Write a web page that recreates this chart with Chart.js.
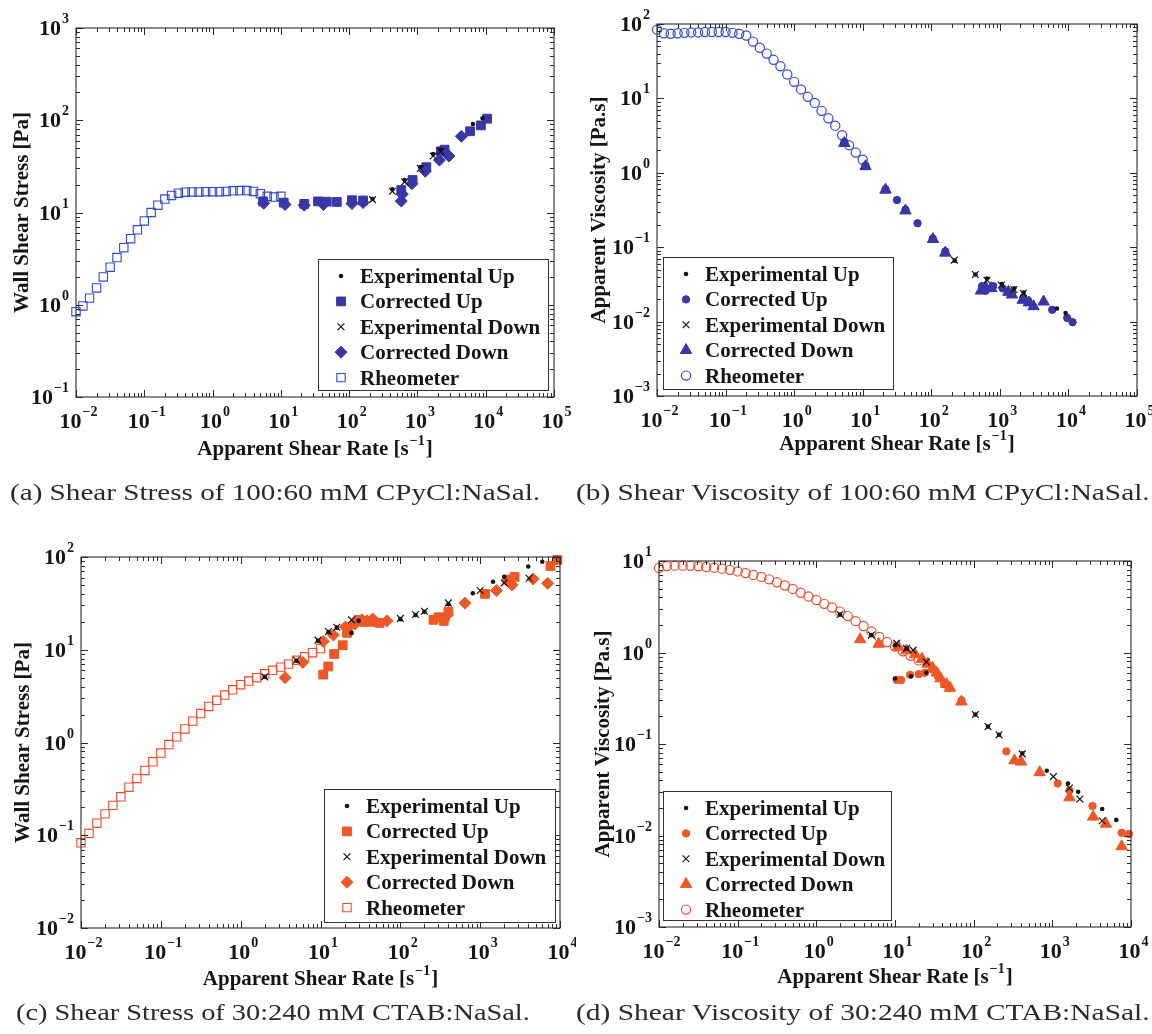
<!DOCTYPE html>
<html lang="en">
<head>
<meta charset="UTF-8">
<title>Wall shear stress and apparent viscosity</title>
<script src="https://cdn.jsdelivr.net/npm/chart.js"></script>
<style>
  body { margin: 0; background: #fff; width: 1152px; height: 1034px; position: relative; overflow: hidden; }
  canvas { position: absolute; }
  .caption { position: absolute; font-family: 'Liberation Serif', serif; font-size: 24px; line-height: 1; color: #2a2a2a; white-space: nowrap; transform-origin: left top; }
</style>
</head>
<body>
<canvas id="chartA"></canvas>
<canvas id="chartB"></canvas>
<canvas id="chartC"></canvas>
<canvas id="chartD"></canvas>
<div class="caption" id="capA">(a) Shear Stress of 100:60 mM CPyCl:NaSal.</div>
<div class="caption" id="capB">(b) Shear Viscosity of 100:60 mM CPyCl:NaSal.</div>
<div class="caption" id="capC">(c) Shear Stress of 30:240 mM CTAB:NaSal.</div>
<div class="caption" id="capD">(d) Shear Viscosity of 30:240 mM CTAB:NaSal.</div>

<script>
// ---- data: [shear rate 1/s, value] ----

// (a) wall shear stress [Pa], 100:60 mM CPyCl:NaSal
const aExpUp = [[220,14],[430,17.8],[650,22.5],[1100,31],[1700,43],[2200,48],[6500,91],[9000,105]];
const aCorrUp = [[5.5,13.2],[11,12.8],[22,12.4],[35,13.2],[47,13.1],[66,13],[110,13.6],[160,13.5],
  [580,17.5],[850,22.5],[1350,31],[2200,46],[2500,48],[5900,76],[8500,88],[10500,104]];
const aExpDown = [[220,13.8],[430,17],[650,21.5],[1100,30],[1700,41],[2200,46]];
const aCorrDown = [[5.6,12.6],[11.5,12.2],[22,12],[42,12.2],[110,12.5],[160,12.8],[580,13.3],
  [600,15.8],[830,20.5],[1300,28],[2100,37],[2900,41],[4400,67]];
const aRheometer = [[0.01,0.84],[0.0126,0.97],[0.0158,1.18],[0.02,1.52],[0.0251,2.0],[0.0316,2.55],
  [0.0398,3.25],[0.0501,4.15],[0.0631,5.2],[0.0794,6.5],[0.1,8.1],[0.126,10],[0.158,12],[0.2,14],
  [0.251,15.3],[0.316,16.2],[0.398,16.6],[0.501,16.7],[0.631,16.7],[0.794,16.8],[1,16.8],[1.26,16.8],
  [1.58,16.9],[2,17.2],[2.51,17.3],[3.16,17.3],[3.98,16.9],[5.01,16],[6.31,15],[7.94,14.7],[10,15]];

// (b) apparent viscosity [Pa.s], 100:60 mM CPyCl:NaSal
const bExpUp = [[220,0.066],[440,0.043],[650,0.038],[1070,0.032],[1620,0.028],[2220,0.0246],[6800,0.015],[9100,0.013]];
const bCorrUp = [[5.4,2.6],[11,1.25],[21.5,0.6],[31.6,0.43],[42,0.32],[63,0.21],[105,0.13],[160,0.088],
  [550,0.03],[620,0.026],[800,0.03],[1100,0.028],[1500,0.024],[2200,0.021],[2600,0.019],[5800,0.0144],
  [9600,0.0112],[11500,0.0098]];
const bExpDown = [[217,0.067],[440,0.043],[650,0.036],[1050,0.031],[1600,0.027],[2200,0.024]];
const bCorrDown = [[5.4,2.5],[11,1.22],[21.5,0.59],[42,0.31],[106,0.128],[160,0.084],[530,0.026],
  [620,0.029],[750,0.028],[1330,0.025],[1500,0.023],[2150,0.0195],[2650,0.018],[3100,0.016],[4350,0.0185]];
const bRheometer = [[0.01,84],[0.0126,75],[0.0158,74],[0.02,75],[0.0251,76],[0.0316,77],[0.0398,77],
  [0.0501,78],[0.0631,78],[0.0794,78],[0.1,78],[0.126,76],[0.158,74],[0.2,70],[0.251,58],[0.316,48],
  [0.398,40],[0.501,33],[0.631,27],[0.794,21],[1,16.7],[1.26,13.2],[1.58,10.5],[2,8.7],[2.51,6.8],
  [3.16,5.4],[3.98,4.3],[5.01,3.2],[6.31,2.35],[7.94,1.87],[10,1.5]];

// (c) wall shear stress [Pa], 30:240 mM CTAB:NaSal
const cExpUp = [[2,5.1],[5,7.6],[9.3,12.5],[12.6,15.5],[16,17.3],[24.5,15.2],[30,20.5],[100,21.3],
  [155,23.7],[200,25.7],[400,31],[810,40.7],[1450,54],[2000,61],[4000,79],[6000,89]];
const cCorrUp = [[10.8,5.4],[12.5,6.6],[14.8,9],[19,11.2],[21.5,15.2],[22,17],[30,21],[35,20],[45,20],
  [55,19.5],[260,21],[300,22.4],[350,20.5],[400,25.7],[1150,40],[2200,57],[2700,61],[7600,80],[9300,93]];
const cExpDown = [[2,5.1],[5,7.7],[9.3,12.7],[12.6,15.7],[16,17.5],[24.5,21],[100,21.8],[155,24],
  [200,26],[400,32],[1000,43.5],[2000,52.6],[4100,59]];
const cCorrDown = [[3.6,5],[6,7.3],[10.8,12.3],[14.5,14.4],[20.5,17.6],[27,19],[33,21],[38,20.5],
  [45,21.5],[68,20.5],[350,21],[390,24],[645,31.8],[1600,43.5],[2500,50],[4600,58],[7000,52]];
const cRheometer = [[0.01,0.083],[0.0126,0.105],[0.0158,0.135],[0.02,0.17],[0.0251,0.21],[0.0316,0.26],
  [0.0398,0.33],[0.0501,0.41],[0.0631,0.5],[0.0794,0.62],[0.1,0.77],[0.126,0.95],[0.158,1.15],[0.2,1.4],
  [0.251,1.7],[0.316,2.05],[0.398,2.45],[0.501,2.85],[0.631,3.25],[0.794,3.7],[1,4.2],[1.26,4.6],
  [1.58,5.0],[2,5.5],[2.51,6.0],[3.16,6.5],[3.98,7.0],[5.01,7.7],[6.31,8.4],[7.94,9.3],[10,10.3]];

// (d) apparent viscosity [Pa.s], 30:240 mM CTAB:NaSal
const dExpUp = [[2,2.6],[5,1.55],[10,1.2],[14,1.1],[10,0.52],[16,0.55],[25,0.6],[105,0.21],[152,0.155],
  [210,0.126],[415,0.079],[850,0.051],[1580,0.037],[2130,0.03],[4300,0.0195],[6500,0.0148]];
const dCorrUp = [[10.5,0.5],[12,0.5],[15.5,0.57],[20,0.58],[24,0.6],[30,0.65],[35,0.55],[42,0.45],
  [48,0.41],[70,0.3],[260,0.083],[1170,0.037],[1650,0.031],[3240,0.021],[7600,0.0107],[9400,0.0104]];
const dExpDown = [[2,2.6],[5,1.55],[10.5,1.26],[14,1.11],[17,1.06],[25,0.79],[105,0.21],[152,0.155],
  [210,0.126],[415,0.078],[1030,0.044],[1650,0.033],[2240,0.025],[4300,0.0145]];
const dCorrDown = [[3.6,1.39],[6.2,1.24],[11,1.15],[14,1.05],[18,0.95],[22,0.85],[26,0.75],[30,0.68],
  [34,0.6],[38,0.52],[45,0.45],[50,0.41],[70,0.29],[330,0.066],[400,0.064],[690,0.049],[1650,0.026],
  [3300,0.016],[4800,0.0134],[7600,0.0076]];
const dRheometer = [[0.01,8.4],[0.0126,8.8],[0.0158,8.9],[0.02,8.9],[0.0251,8.85],[0.0316,8.75],
  [0.0398,8.6],[0.0501,8.45],[0.0631,8.25],[0.0794,8.0],[0.1,7.7],[0.126,7.4],[0.158,7.05],[0.2,6.7],
  [0.251,6.3],[0.316,5.85],[0.398,5.4],[0.501,4.95],[0.631,4.5],[0.794,4.1],[1,3.75],[1.26,3.4],
  [1.58,3.1],[2,2.8],[2.51,2.5],[3.16,2.2],[3.98,1.95],[5.01,1.7],[6.31,1.48],[7.94,1.3],[10,1.16],
  [12.6,1.03],[15.8,0.92],[20,0.82]];

// decade exponents used for tick labels
const xDecadesAB = [-2, -1, 0, 1, 2, 3, 4, 5];
const xDecadesCD = [-2, -1, 0, 1, 2, 3, 4];
const yDecadesA = [-1, 0, 1, 2, 3];
const yDecadesB = [-3, -2, -1, 0, 1, 2];
const yDecadesC = [-2, -1, 0, 1, 2];
const yDecadesD = [-3, -2, -1, 0, 1];

const legendLabels = ['Experimental Up', 'Corrected Up', 'Experimental Down', 'Corrected Down', 'Rheometer'];

// ---- styles ----
const BLUE = 'rgb(55,55,165)';
const BLUE_OPEN = 'rgb(50,72,205)';
const ORANGE = 'rgb(238,88,38)';
const ORANGE_OPEN = 'rgb(240,76,46)';
const INK = '#151515';
const FONT = '"Liberation Serif", "Times New Roman", serif';

function stressStyles(col, open) {
  return [
    { style: 'circle', r: 2.3, fill: INK, stroke: INK, lw: 0 },
    { style: 'rect', r: 6.2, fill: col, stroke: col, lw: 1 },
    { style: 'crossRot', r: 4.8, fill: null, stroke: INK, lw: 1.2 },
    { style: 'rectRot', r: 6, fill: col, stroke: col, lw: 1 },
    { style: 'rect', r: 5.9, fill: null, stroke: open, lw: 1.1 }
  ];
}
function viscStyles(col, open) {
  return [
    { style: 'circle', r: 2.3, fill: INK, stroke: INK, lw: 0 },
    { style: 'circle', r: 3.7, fill: col, stroke: col, lw: 1 },
    { style: 'crossRot', r: 4.8, fill: null, stroke: INK, lw: 1.2 },
    { style: 'triangle', r: 6.6, fill: col, stroke: col, lw: 1 },
    { style: 'circle', r: 4.6, fill: null, stroke: open, lw: 1.2 }
  ];
}

const panels = [
  { id: 'chartA', box: [0, 0, 576, 490], area: [76, 28, 554, 397], x: [1e-2, 1e5], y: [1e-1, 1e3],
    xDec: xDecadesAB, yDec: yDecadesA, yTitle: 'Wall Shear Stress [Pa]', yTitleX: 23, xTitleY: 455,
    legend: [318, 259, 548, 390], series: [aExpUp, aCorrUp, aExpDown, aCorrDown, aRheometer],
    styles: stressStyles(BLUE, BLUE_OPEN) },
  { id: 'chartB', box: [576, 0, 576, 490], area: [657, 24, 1137, 396], x: [1e-2, 1e5], y: [1e-3, 1e2],
    xDec: xDecadesAB, yDec: yDecadesB, yTitle: 'Apparent Viscosity [Pa.s]', yTitleX: 600, xTitleY: 450,
    legend: [663, 257, 893, 389], series: [bExpUp, bCorrUp, bExpDown, bCorrDown, bRheometer],
    styles: viscStyles(BLUE, BLUE_OPEN) },
  { id: 'chartC', box: [0, 515, 576, 490], area: [81, 557, 560, 928], x: [1e-2, 1e4], y: [1e-2, 1e2],
    xDec: xDecadesCD, yDec: yDecadesC, yTitle: 'Wall Shear Stress [Pa]', yTitleX: 24, xTitleY: 985,
    legend: [324, 789, 555, 922], series: [cExpUp, cCorrUp, cExpDown, cCorrDown, cRheometer],
    styles: stressStyles(ORANGE, ORANGE_OPEN) },
  { id: 'chartD', box: [576, 515, 576, 490], area: [659, 561, 1131, 927], x: [1e-2, 1e4], y: [1e-3, 1e1],
    xDec: xDecadesCD, yDec: yDecadesD, yTitle: 'Apparent Viscosity [Pa.s]', yTitleX: 604, xTitleY: 983,
    legend: [663, 791, 891, 920], series: [dExpUp, dCorrUp, dExpDown, dCorrDown, dRheometer],
    styles: viscStyles(ORANGE, ORANGE_OPEN) }
];

// marker path in the same geometry Chart.js uses
function drawMarker(ctx, m, x, y) {
  const r = m.r;
  ctx.beginPath();
  if (m.style === 'circle') {
    ctx.arc(x, y, r, 0, Math.PI * 2);
  } else if (m.style === 'rect') {
    const s = r * Math.SQRT1_2;
    ctx.rect(x - s, y - s, 2 * s, 2 * s);
  } else if (m.style === 'rectRot') {
    ctx.moveTo(x - r, y); ctx.lineTo(x, y - r); ctx.lineTo(x + r, y); ctx.lineTo(x, y + r); ctx.closePath();
  } else if (m.style === 'triangle') {
    ctx.moveTo(x, y - r); ctx.lineTo(x + r * 0.866, y + r * 0.5); ctx.lineTo(x - r * 0.866, y + r * 0.5); ctx.closePath();
  } else if (m.style === 'crossRot') {
    const o = r * Math.SQRT1_2;
    ctx.moveTo(x - o, y - o); ctx.lineTo(x + o, y + o);
    ctx.moveTo(x - o, y + o); ctx.lineTo(x + o, y - o);
  }
  if (m.fill && m.style !== 'crossRot') { ctx.fillStyle = m.fill; ctx.fill(); }
  if (m.lw > 0) { ctx.lineWidth = m.lw; ctx.strokeStyle = m.stroke; ctx.stroke(); }
}

function supText(exp) {
  return exp < 0 ? '\u2212' + (-exp) : String(exp);
}

// "10" with a raised exponent
function powerLabel(ctx, exp, x, y, align) {
  ctx.font = 'bold 22px ' + FONT;
  const wb = ctx.measureText('10').width;
  ctx.font = 'bold 14px ' + FONT;
  const sup = supText(exp);
  const ws = ctx.measureText(sup).width;
  const x0 = align === 'center' ? x - (wb + ws) / 2 : x - wb - ws - 1;
  ctx.textAlign = 'left';
  ctx.textBaseline = 'alphabetic';
  ctx.font = 'bold 22px ' + FONT;
  ctx.fillText('10', x0, y);
  ctx.font = 'bold 14px ' + FONT;
  ctx.fillText(sup, x0 + wb + 1, y - 12);
}

const matlabFrame = {
  id: 'matlabFrame',
  afterDatasetsDraw(chart, args, p) {
    const ctx = chart.ctx;
    const ca = chart.chartArea;
    const xs = chart.scales.x, ys = chart.scales.y;
    const ox = p.box[0], oy = p.box[1];
    ctx.save();

    // frame
    ctx.strokeStyle = '#2a2a2a';
    ctx.lineWidth = 1.1;
    ctx.strokeRect(ca.left, ca.top, ca.right - ca.left, ca.bottom - ca.top);

    // inward ticks on all four sides
    ctx.lineWidth = 1;
    ctx.beginPath();
    const decadeTicks = (lo, hi, fn) => {
      for (let d = Math.round(Math.log10(lo)); d < Math.round(Math.log10(hi)); d++) {
        for (let k = 1; k <= 9; k++) fn(k * Math.pow(10, d), k === 1);
      }
      fn(hi, true);
    };
    decadeTicks(p.x[0], p.x[1], (v, major) => {
      const px = Math.round(xs.getPixelForValue(v)) + 0.5;
      const len = major ? 7 : 4;
      ctx.moveTo(px, ca.bottom); ctx.lineTo(px, ca.bottom - len);
      ctx.moveTo(px, ca.top); ctx.lineTo(px, ca.top + len);
    });
    decadeTicks(p.y[0], p.y[1], (v, major) => {
      const py = Math.round(ys.getPixelForValue(v)) + 0.5;
      const len = major ? 7 : 4;
      ctx.moveTo(ca.left, py); ctx.lineTo(ca.left + len, py);
      ctx.moveTo(ca.right, py); ctx.lineTo(ca.right - len, py);
    });
    ctx.stroke();

    // tick labels
    ctx.fillStyle = INK;
    p.xDec.forEach(e => powerLabel(ctx, e, xs.getPixelForValue(Math.pow(10, e)) + 2, ca.bottom + 31, 'center'));
    p.yDec.forEach(e => powerLabel(ctx, e, ca.left - 7, ys.getPixelForValue(Math.pow(10, e)) + 7, 'right'));

    // x title with superscript
    ctx.font = 'bold 21px ' + FONT;
    const t1 = 'Apparent Shear Rate [s', t3 = ']';
    const w1 = ctx.measureText(t1).width, w3 = ctx.measureText(t3).width;
    ctx.font = 'bold 14px ' + FONT;
    const t2 = '\u22121', w2 = ctx.measureText(t2).width + 2;
    let tx = (ca.left + ca.right) / 2 - (w1 + w2 + w3) / 2;
    const ty = p.xTitleY - oy;
    ctx.textAlign = 'left';
    ctx.font = 'bold 21px ' + FONT;
    ctx.fillText(t1, tx, ty);
    ctx.font = 'bold 14px ' + FONT;
    ctx.fillText(t2, tx + w1 + 1, ty - 10);
    ctx.font = 'bold 21px ' + FONT;
    ctx.fillText(t3, tx + w1 + w2, ty);

    // y title
    ctx.save();
    ctx.translate(p.yTitleX - ox, (ca.top + ca.bottom) / 2);
    ctx.rotate(-Math.PI / 2);
    ctx.textAlign = 'center';
    ctx.textBaseline = 'middle';
    ctx.fillText(p.yTitle, 0, 0);
    ctx.restore();

    // legend
    const lx = p.legend[0] - ox, ly = p.legend[1] - oy;
    const lw = p.legend[2] - p.legend[0], lh = p.legend[3] - p.legend[1];
    ctx.fillStyle = '#fff';
    ctx.fillRect(lx, ly, lw, lh);
    ctx.strokeStyle = '#333';
    ctx.lineWidth = 1;
    ctx.strokeRect(lx + 0.5, ly + 0.5, lw, lh);
    legendLabels.forEach((lab, i) => {
      const cy = ly + 17 + i * 25.4;
      drawMarker(ctx, p.styles[i], lx + 23, cy);
      ctx.fillStyle = INK;
      ctx.font = 'bold 21px ' + FONT;
      ctx.textAlign = 'left';
      ctx.textBaseline = 'alphabetic';
      ctx.fillText(lab, lx + 42, cy + 7);
    });
    ctx.restore();
  }
};

panels.forEach(p => {
  const cv = document.getElementById(p.id);
  cv.width = p.box[2];
  cv.height = p.box[3];
  cv.style.left = p.box[0] + 'px';
  cv.style.top = p.box[1] + 'px';
  const drawOrder = [0, 2, 1, 3, 4];
  const datasets = p.series.map((pts, i) => {
    const m = p.styles[i];
    return {
      label: legendLabels[i],
      data: pts.map(([x, y]) => ({ x, y })),
      pointStyle: m.style,
      pointRadius: m.r,
      pointBackgroundColor: m.fill || 'rgba(0,0,0,0)',
      pointBorderColor: m.stroke,
      pointBorderWidth: m.lw,
      showLine: false,
      clip: false,
      order: drawOrder[i]
    };
  });
  new Chart(cv, {
    type: 'scatter',
    data: { datasets },
    options: {
      responsive: false,
      animation: false,
      devicePixelRatio: 1,
      layout: { padding: {
        left: p.area[0] - p.box[0],
        top: p.area[1] - p.box[1],
        right: p.box[0] + p.box[2] - p.area[2],
        bottom: p.box[1] + p.box[3] - p.area[3]
      } },
      scales: {
        x: { type: 'logarithmic', min: p.x[0], max: p.x[1], display: false },
        y: { type: 'logarithmic', min: p.y[0], max: p.y[1], display: false }
      },
      plugins: {
        legend: { display: false },
        tooltip: { enabled: false },
        matlabFrame: p
      }
    },
    plugins: [matlabFrame]
  });
});

// captions: widen the glyphs (Computer Modern is broader than Times) to the span seen in the figure
const captionBoxes = [['capA', 10, 530, 480], ['capB', 576, 574, 480], ['capC', 16, 514, 1000], ['capD', 576, 574, 1000]];
const mctx = document.createElement('canvas').getContext('2d');
mctx.font = '24px ' + FONT;
captionBoxes.forEach(([id, left, width, top]) => {
  const el = document.getElementById(id);
  const natural = mctx.measureText(el.textContent).width;
  el.style.transform = 'scaleX(' + (width / natural).toFixed(3) + ')';
  el.style.left = left + 'px';
  el.style.top = top + 'px';
});
</script>
</body>
</html>
